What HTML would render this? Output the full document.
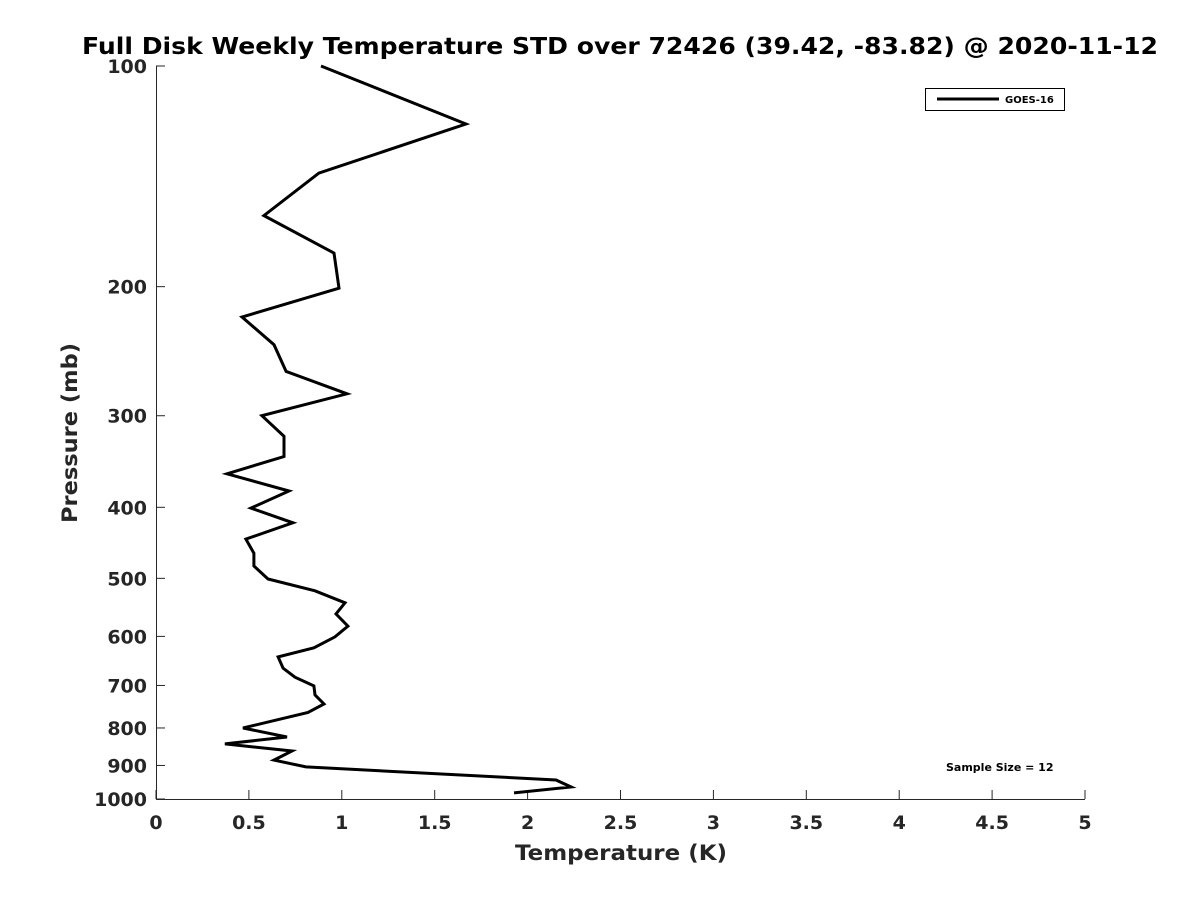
<!DOCTYPE html>
<html><head><meta charset="utf-8"><style>
html,body{margin:0;padding:0;background:#fff;}
svg{display:block;font-family:"DejaVu Sans","Liberation Sans",sans-serif;}
</style></head><body>
<svg id="chart" width="1200" height="900" viewBox="0 0 1200 900">
<rect x="0" y="0" width="1200" height="900" fill="#fff"/>
<text x="82" y="54" font-size="23" font-weight="bold" fill="#000" textLength="1076" lengthAdjust="spacingAndGlyphs">Full Disk Weekly Temperature STD over 72426 (39.42, -83.82) @ 2020-11-12</text>
<g id="axes"></g>
<g id="series"></g>
<g>
<rect x="925.5" y="88.5" width="139" height="22" fill="#fff" stroke="#000" stroke-width="1"/>
<line x1="937" y1="99" x2="999" y2="99" stroke="#000" stroke-width="3"/>
<text x="1005" y="103" font-size="10" font-weight="bold">GOES-16</text>
</g>
<text x="946" y="771" font-size="11" font-weight="bold">Sample Size = 12</text>
<text x="515" y="860" font-size="21" font-weight="bold" fill="#262626" textLength="212" lengthAdjust="spacingAndGlyphs">Temperature (K)</text>
<text transform="translate(77,523) rotate(-90)" font-size="21" font-weight="bold" fill="#262626" textLength="180" lengthAdjust="spacingAndGlyphs">Pressure (mb)</text>
</svg>
<script>
const pressures=[100,120,140,160,180,201,220,240,261,280,300,320,341,360,380,401,420,442,462,481,501,520,540,559,581,601,622,640,663,682,701,721,742,762,800,823,841,860,885,904,942,963,981];
const temps=[0.888,1.668,0.877,0.581,0.958,0.985,0.463,0.635,0.700,1.028,0.570,0.689,0.689,0.382,0.716,0.511,0.737,0.484,0.527,0.527,0.603,0.856,1.017,0.969,1.033,0.963,0.850,0.657,0.684,0.748,0.850,0.856,0.904,0.818,0.468,0.705,0.371,0.732,0.635,0.807,2.153,2.234,1.927];
const xTicks=[0,0.5,1,1.5,2,2.5,3,3.5,4,4.5,5];
const xTickLabels=["0","0.5","1","1.5","2","2.5","3","3.5","4","4.5","5"];
const yTicks=[100,200,300,400,500,600,700,800,900,1000];
const yTickLabels=["100","200","300","400","500","600","700","800","900","1000"];
const X0=156,X1=1085,Y0=66,Y1=799;
function xs(v){return X0+(v-0)/(5-0)*(X1-X0);}
function ys(p){return Y0+(Math.log10(p)-2)/(3-2)*(Y1-Y0);}
const NS="http://www.w3.org/2000/svg";
const axes=document.getElementById('axes');
function mk(t,a,parent){const e=document.createElementNS(NS,t);for(const k in a)e.setAttribute(k,a[k]);parent.appendChild(e);return e;}
let ax=mk('line',{x1:X0,y1:Y1+0.5,x2:X1,y2:Y1+0.5,stroke:'#262626','stroke-width':1},axes);


let ay=mk('line',{x1:X0+0.5,y1:Y0,x2:X0+0.5,y2:Y1,stroke:'#262626','stroke-width':1},axes);


xTicks.forEach((v,i)=>{const x=xs(v);
 let t=mk('line',{x1:x,y1:Y1,x2:x,y2:Y1-9,stroke:'#262626'},axes);
 
 
 let l=mk('text',{x:x,y:Y1+30,'text-anchor':'middle','font-size':19,'font-weight':'bold',fill:'#262626'},axes);
 l.textContent=xTickLabels[i];
 
 
});
yTicks.forEach((v,i)=>{const y=ys(v);
 let t=mk('line',{x1:X0,y1:y,x2:X0+9,y2:y,stroke:'#262626'},axes);
 
 
 let l=mk('text',{x:X0-9,y:y+7,'text-anchor':'end','font-size':19,'font-weight':'bold',fill:'#262626'},axes);
 l.textContent=yTickLabels[i];
 
 
});
const series=document.getElementById('series');
const pts=temps.map((t,i)=>xs(t).toFixed(1)+','+ys(pressures[i]).toFixed(1)).join(' ');
let pl=mk('polyline',{points:pts,fill:'none',stroke:'#000','stroke-width':3,'stroke-linejoin':'miter'},series);


</script>
</body></html>
